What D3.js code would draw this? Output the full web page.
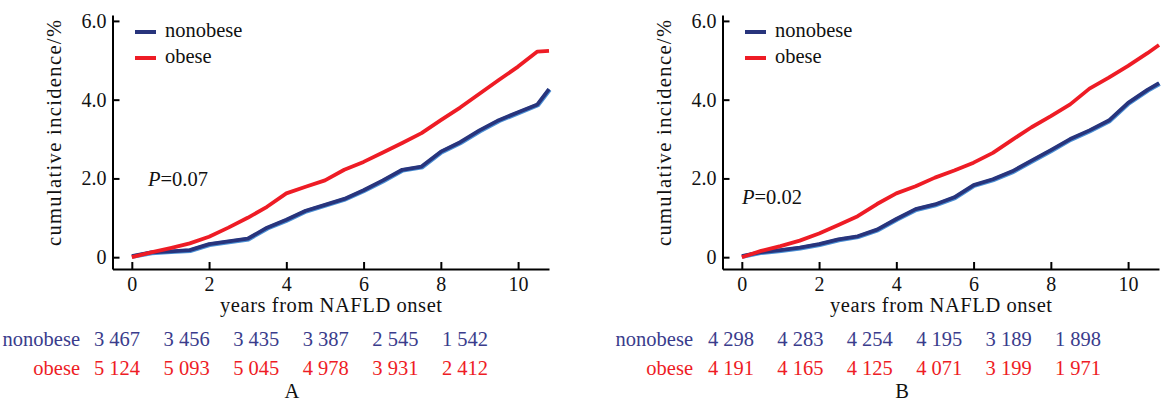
<!DOCTYPE html>
<meta charset="utf-8">
<script src="https://cdn.jsdelivr.net/npm/d3@7"></script>
<style>
body { margin: 0; background: #fff; }
svg { font-family: "Liberation Serif", "DejaVu Serif", serif; }
.axis path, .axis line { stroke: #000; stroke-width: 2; }
.axis text { font-size: 20px; fill: #111; font-family: "Liberation Serif", serif; }
</style>
<svg width="1170" height="406"></svg>
<script>

// time points (years)
var years = [0, 0.5, 1, 1.5, 2, 2.5, 3, 3.5, 4, 4.5, 5, 5.5, 6, 6.5, 7, 7.5, 8, 8.5, 9, 9.5, 10, 10.5, 10.8];

// panel A cumulative incidence (%)
var aNonobese = [0.03, 0.12, 0.15, 0.18, 0.33, 0.40, 0.47, 0.75, 0.95, 1.18, 1.33, 1.48, 1.70, 1.95, 2.22, 2.30, 2.68, 2.92, 3.22, 3.48, 3.68, 3.88, 4.27];
var aObese    = [0.00, 0.12, 0.23, 0.35, 0.52, 0.75, 1.00, 1.28, 1.62, 1.79, 1.95, 2.22, 2.42, 2.66, 2.90, 3.15, 3.48, 3.80, 4.15, 4.50, 4.84, 5.22, 5.24];

// panel B cumulative incidence (%)
var bNonobese = [0.03, 0.13, 0.18, 0.24, 0.33, 0.45, 0.53, 0.70, 0.97, 1.22, 1.34, 1.52, 1.83, 1.98, 2.18, 2.45, 2.72, 3.00, 3.22, 3.47, 3.92, 4.25, 4.42];
var bObese    = [0.00, 0.16, 0.28, 0.42, 0.60, 0.82, 1.04, 1.35, 1.62, 1.80, 2.02, 2.20, 2.40, 2.65, 2.98, 3.30, 3.58, 3.88, 4.28, 4.56, 4.86, 5.18, 5.39];

// number at risk
var riskANonobese = ["3 467", "3 456", "3 435", "3 387", "2 545", "1 542"];
var riskAObese    = ["5 124", "5 093", "5 045", "4 978", "3 931", "2 412"];
var riskBNonobese = ["4 298", "4 283", "4 254", "4 195", "3 189", "1 898"];
var riskBObese    = ["4 191", "4 165", "4 125", "4 071", "3 199", "1 971"];

var xTicks = [0, 2, 4, 6, 8, 10];
var yTicks = [0, 2, 4, 6];
var groups = ["nonobese", "obese"];
var pValues = ["0.07", "0.02"];

var blue = "#28347c", blueText = "#3a3c8c", red = "#ee1c25";
var fs = 20.5;

var svg = d3.select("svg");

var panels = [
    {dx: 0, label: "A", non: aNonobese, ob: aObese, rNon: riskANonobese, rOb: riskAObese, p: pValues[0], px: 148, py: 186, riskX: [117, 465], rowX: 80},
    {dx: 610, label: "B", non: bNonobese, ob: bObese, rNon: riskBNonobese, rOb: riskBObese, p: pValues[1], px: 132, py: 204, riskX: [121, 468], rowX: 83}
];

panels.forEach(function(p) {
    var g = svg.append("g").attr("transform", "translate(" + p.dx + ",0)");

    var x = d3.scaleLinear().domain([-0.5, 10.8]).range([112.5, 549]);
    var y = d3.scaleLinear().domain([-0.3, 6.15]).range([269, 15]);

    g.append("g").attr("class", "axis")
        .attr("transform", "translate(0,269)")
        .call(d3.axisBottom(x).tickValues(xTicks).tickSize(-7).tickSizeOuter(0).tickPadding(8));

    g.append("g").attr("class", "axis")
        .attr("transform", "translate(112.5,0)")
        .call(d3.axisLeft(y).tickValues(yTicks).tickSize(-7).tickSizeOuter(0).tickPadding(6)
            .tickFormat(function(d) { return d === 0 ? "0" : d.toFixed(1); }));

    var line = d3.line()
        .x(function(d, i) { return x(years[i]); })
        .y(function(d) { return y(d); });

    // light edge under the blue curve
    g.append("path").datum(p.non).attr("d", line)
        .attr("fill", "none").attr("stroke", "#4a8fd4").attr("stroke-width", 4.5)
        .attr("transform", "translate(0.6,0.6)");
    g.append("path").datum(p.non).attr("d", line)
        .attr("fill", "none").attr("stroke", blue).attr("stroke-width", 3.8)
        .attr("stroke-linejoin", "round");
    g.append("path").datum(p.ob).attr("d", line)
        .attr("fill", "none").attr("stroke", red).attr("stroke-width", 3.8)
        .attr("stroke-linejoin", "round");

    // legend
    [[blue, 32, groups[0]], [red, 58, groups[1]]].forEach(function(l) {
        g.append("line")
            .attr("x1", 135).attr("x2", 156).attr("y1", l[1]).attr("y2", l[1])
            .attr("stroke", l[0]).attr("stroke-width", 4);
        g.append("text").attr("x", 165).attr("y", l[1] + 5)
            .attr("font-size", fs).attr("fill", "#111").text(l[2]);
    });

    var pt = g.append("text").attr("x", p.px).attr("y", p.py).attr("font-size", fs).attr("fill", "#111");
    pt.append("tspan").attr("font-style", "italic").text("P");
    pt.append("tspan").text("=" + p.p);

    // axis titles
    g.append("text").attr("x", 331).attr("y", 312).attr("text-anchor", "middle")
        .attr("font-size", fs).attr("fill", "#111")
        .attr("textLength", 222).attr("lengthAdjust", "spacing")
        .text("years from NAFLD onset");
    g.append("text").attr("transform", "translate(61,133) rotate(-90)")
        .attr("text-anchor", "middle").attr("font-size", fs).attr("fill", "#111")
        .attr("textLength", 226).attr("lengthAdjust", "spacing")
        .text("cumulative incidence/%");

    // number at risk table
    var rx = d3.scalePoint().domain(d3.range(6)).range(p.riskX);
    g.append("text").attr("x", p.rowX).attr("y", 346).attr("text-anchor", "end")
        .attr("font-size", fs).attr("fill", blueText).text(groups[0]);
    g.append("text").attr("x", p.rowX).attr("y", 375).attr("text-anchor", "end")
        .attr("font-size", fs).attr("fill", red).text(groups[1]);
    g.selectAll("text.rnon").data(p.rNon).enter().append("text")
        .attr("class", "rnon")
        .attr("x", function(d, i) { return rx(i); }).attr("y", 346)
        .attr("text-anchor", "middle").attr("font-size", fs).attr("fill", blueText)
        .text(function(d) { return d; });
    g.selectAll("text.rob").data(p.rOb).enter().append("text")
        .attr("class", "rob")
        .attr("x", function(d, i) { return rx(i); }).attr("y", 375)
        .attr("text-anchor", "middle").attr("font-size", fs).attr("fill", red)
        .text(function(d) { return d; });

    g.append("text").attr("x", 292).attr("y", 398).attr("text-anchor", "middle")
        .attr("font-size", fs).attr("fill", "#111").text(p.label);
});

</script>
